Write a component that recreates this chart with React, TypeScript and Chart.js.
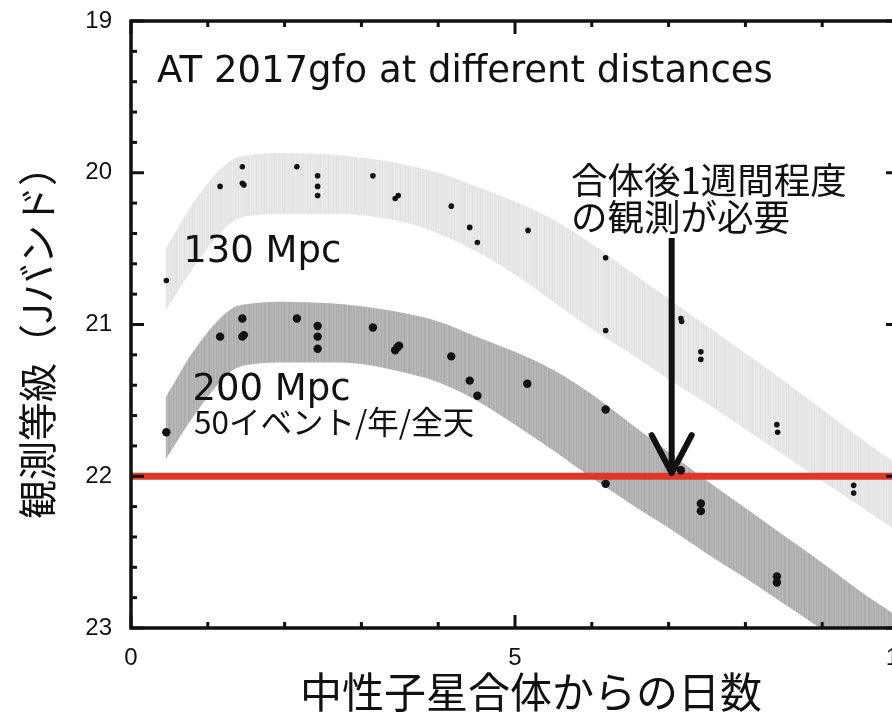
import { useEffect, useRef } from 'react';
import { Chart, registerables } from 'chart.js';

Chart.register(...registerables);

// ---- data ----
const xTickLabels = ['0', '5', '10'];
const yTickLabels = ['19', '20', '21', '22', '23'];

// band edges (days after merger / J-band magnitude)
const bandDays = [0.45, 0.85, 1.3, 1.6, 2.0, 2.6, 3.0, 3.5, 4.0, 4.5, 5.0, 5.5, 6.0, 6.5, 7.0, 7.5, 8.0, 8.5, 9.0, 9.5, 10.0];
const band130Upper = [20.50, 20.17, 19.92, 19.88, 19.87, 19.88, 19.90, 19.94, 20.00, 20.09, 20.19, 20.31, 20.47, 20.65, 20.83, 21.01, 21.19, 21.37, 21.56, 21.75, 21.93];
const band130Lower = [20.91, 20.60, 20.33, 20.28, 20.27, 20.27, 20.28, 20.32, 20.40, 20.52, 20.67, 20.85, 21.03, 21.19, 21.36, 21.52, 21.69, 21.86, 22.03, 22.20, 22.37];
const band200Upper = [21.48, 21.15, 20.90, 20.86, 20.85, 20.86, 20.88, 20.92, 20.98, 21.08, 21.18, 21.30, 21.46, 21.65, 21.84, 22.03, 22.21, 22.39, 22.57, 22.76, 22.93];
const band200Lower = [21.89, 21.58, 21.31, 21.26, 21.25, 21.25, 21.26, 21.31, 21.38, 21.50, 21.66, 21.83, 22.01, 22.18, 22.34, 22.51, 22.67, 22.84, 23.01, 23.19, 23.36];

// observed points shifted to each distance
const obs130Days = [0.46, 1.16, 1.45, 1.45, 1.47, 2.16, 2.43, 2.43, 2.43, 3.15, 3.44, 3.48, 4.17, 4.41, 4.51, 5.17, 6.18, 6.18, 7.16, 7.17, 7.42, 7.42, 8.41, 8.42, 9.41, 9.41];
const obs130Mag = [20.71, 20.09, 19.96, 20.07, 20.08, 19.96, 20.02, 20.09, 20.15, 20.02, 20.17, 20.15, 20.22, 20.36, 20.46, 20.38, 20.56, 21.04, 20.96, 20.98, 21.18, 21.23, 21.66, 21.71, 22.06, 22.11];
const obs200Days = [0.46, 1.16, 1.45, 1.45, 1.47, 2.16, 2.43, 2.43, 2.43, 3.15, 3.44, 3.47, 3.49, 4.17, 4.41, 4.51, 5.16, 6.18, 6.18, 7.05, 7.16, 7.42, 7.42, 8.41, 8.41];
const obs200Mag = [21.71, 21.08, 20.96, 21.08, 21.07, 20.96, 21.01, 21.08, 21.16, 21.02, 21.17, 21.15, 21.14, 21.21, 21.37, 21.47, 21.39, 21.56, 22.05, 21.95, 21.96, 22.18, 22.23, 22.66, 22.70];

const limitMag = 22;
const limitDays = [0, 10];

// annotation anchors (data units)
const arrowDay = 7.04;
const arrowFromMag = 20.43;
const arrowToMag = 21.98;

const toXY = (xs: number[], ys: number[]) => xs.map((x, i) => ({ x, y: ys[i] }));
const isInt = (v: number) => Math.abs(v - Math.round(v)) < 1e-6;

function stripePattern(shades: number[]) {
  const c = document.createElement('canvas');
  c.width = shades.length;
  c.height = 4;
  const g = c.getContext('2d')!;
  shades.forEach((s, i) => {
    g.fillStyle = `rgb(${s},${s},${s})`;
    g.fillRect(i, 0, 1, 4);
  });
  return g.createPattern(c, 'repeat');
}

const framePlugin = {
  id: 'frameAndNotes',
  afterDatasetsDraw(chart: any) {
    const { ctx, chartArea: a, scales } = chart;
    const xs = scales.x;
    const ys = scales.y;
    ctx.save();
    ctx.strokeStyle = '#111';
    ctx.lineWidth = 3.5;
    ctx.lineCap = 'butt';
    ctx.strokeRect(a.left, a.top, a.right - a.left, a.bottom - a.top);
    const seg = (x1: number, y1: number, x2: number, y2: number) => {
      ctx.beginPath();
      ctx.moveTo(x1, y1);
      ctx.lineTo(x2, y2);
      ctx.stroke();
    };
    ctx.lineWidth = 3;
    ys.ticks.forEach((t: any) => {
      const p = ys.getPixelForValue(t.value);
      const len = isInt(t.value) ? 13 : 6;
      seg(a.left, p, a.left + len, p);
      seg(a.right, p, a.right - len, p);
    });
    xs.ticks.forEach((t: any) => {
      const p = xs.getPixelForValue(t.value);
      const len = isInt(t.value / 5) ? 13 : 6;
      seg(p, a.bottom, p, a.bottom - len);
      seg(p, a.top, p, a.top + len);
    });

    // arrow
    const ax = xs.getPixelForValue(arrowDay);
    const ay1 = ys.getPixelForValue(arrowFromMag);
    const ay2 = ys.getPixelForValue(arrowToMag);
    ctx.lineWidth = 6;
    seg(ax, ay1, ax, ay2 - 2);
    ctx.lineCap = 'round';
    ctx.lineJoin = 'round';
    ctx.beginPath();
    ctx.moveTo(ax - 20, ay2 - 38);
    ctx.lineTo(ax, ay2);
    ctx.lineTo(ax + 20, ay2 - 38);
    ctx.stroke();

    // texts
    ctx.fillStyle = '#111';
    ctx.textAlign = 'left';
    ctx.textBaseline = 'alphabetic';
    ctx.font = '37px "DejaVu Sans"';
    ctx.fillText('AT 2017gfo at different distances', xs.getPixelForValue(0.34), ys.getPixelForValue(19.40));
    ctx.fillText('130 Mpc', xs.getPixelForValue(0.68), ys.getPixelForValue(20.59));
    ctx.fillText('200 Mpc', xs.getPixelForValue(0.80), ys.getPixelForValue(21.50));
    ctx.font = '31.5px "Noto Sans CJK JP"';
    ctx.textBaseline = 'middle';
    ctx.fillText('50イベント/年/全天', xs.getPixelForValue(0.82), ys.getPixelForValue(21.645));
    ctx.font = '36.5px "Noto Sans CJK JP"';
    ctx.fillText('合体後1週間程度', xs.getPixelForValue(5.73), ys.getPixelForValue(20.05));
    ctx.fillText('の観測が必要', xs.getPixelForValue(5.73), ys.getPixelForValue(20.29));

    // axis titles
    ctx.textAlign = 'center';
    ctx.font = '42px "Noto Sans CJK JP"';
    ctx.fillText('中性子星合体からの日数', 531, 692);
    ctx.save();
    ctx.translate(37, 333);
    ctx.rotate(-Math.PI / 2);
    ctx.font = '39px "Noto Sans CJK JP"';
    ctx.fillText('観測等級（Jバンド）', 0, 0);
    ctx.restore();
    ctx.restore();
  },
};

export default function App() {
  const ref = useRef<HTMLCanvasElement>(null);
  useEffect(() => {
    const lightFill = stripePattern([231, 228, 233, 230, 226, 232, 229, 234, 230, 227, 231, 233, 228, 230, 225, 232, 235, 229]);
    const darkFill = stripePattern([180, 172, 186, 178, 169, 183, 176, 189, 174, 170, 182, 177, 185, 171, 179, 187, 173, 181, 175, 184]);
    const bandLine = { borderWidth: 0, pointRadius: 0, cubicInterpolationMode: 'monotone' as const, borderColor: 'rgba(0,0,0,0)' };
    const chart = new Chart(ref.current!, {
      type: 'line',
      data: {
        datasets: [
          { label: 'obs130', data: toXY(obs130Days, obs130Mag), showLine: false, pointRadius: 2.8, pointBackgroundColor: '#111', pointBorderWidth: 0, order: 0 },
          { label: 'obs200', data: toXY(obs200Days, obs200Mag), showLine: false, pointRadius: 4.2, pointBackgroundColor: '#111', pointBorderWidth: 0, order: 0 },
          { label: 'limit', data: toXY(limitDays, [limitMag, limitMag]), borderColor: '#de3828', borderWidth: 7, pointRadius: 0, order: 1 },
          { label: '130 upper', data: toXY(bandDays, band130Upper), ...bandLine, fill: '+1', backgroundColor: lightFill, order: 2 },
          { label: '130 lower', data: toXY(bandDays, band130Lower), ...bandLine, fill: false, order: 3 },
          { label: '200 upper', data: toXY(bandDays, band200Upper), ...bandLine, fill: '+1', backgroundColor: darkFill, order: 4 },
          { label: '200 lower', data: toXY(bandDays, band200Lower), ...bandLine, fill: false, order: 5 },
        ] as any,
      },
      options: {
        animation: false,
        responsive: false,
        devicePixelRatio: 1,
        layout: { padding: { left: 0, top: 21, right: 21, bottom: 0 } },
        plugins: { legend: { display: false }, tooltip: { enabled: false } },
        scales: {
          x: {
            type: 'linear',
            min: 0,
            max: 10,
            afterFit: (s: any) => { s.height = 84; s.paddingLeft = 0; s.paddingRight = 0; },
            grid: { display: false, drawTicks: false },
            border: { display: false },
            ticks: {
              stepSize: 1,
              autoSkip: false,
              maxRotation: 0,
              padding: 16,
              color: '#111',
              font: { family: '"Liberation Sans", Arial', size: 24 },
              callback: (v: any) => (isInt(v / 5) ? xTickLabels[Math.round(v / 5)] : ''),
            },
          },
          y: {
            type: 'linear',
            min: 19,
            max: 23,
            reverse: true,
            afterFit: (s: any) => { s.width = 131; s.paddingTop = 0; s.paddingBottom = 0; },
            grid: { display: false, drawTicks: false },
            border: { display: false },
            ticks: {
              stepSize: 0.2,
              autoSkip: false,
              padding: 19,
              color: '#111',
              font: { family: '"Liberation Sans", Arial', size: 24 },
              callback: (v: any) => (isInt(v) ? yTickLabels[Math.round(v) - 19] : ''),
            },
          },
        },
      } as any,
      plugins: [framePlugin],
    });
    return () => chart.destroy();
  }, []);
  return (
    <div style={{ position: 'fixed', left: 0, top: 0, width: 892, height: 712, overflow: 'hidden', background: '#fff' }}>
      <canvas ref={ref} width={920} height={712} style={{ display: 'block', width: 920, height: 712 }} />
    </div>
  );
}
